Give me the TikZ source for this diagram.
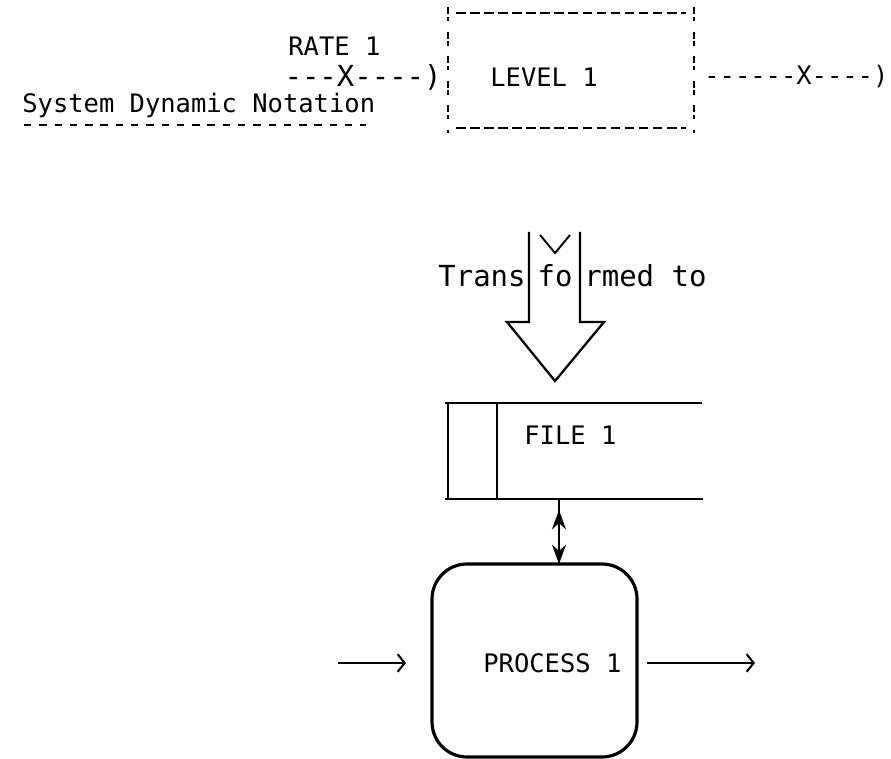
\documentclass[tikz,border=0pt]{standalone}
\usepackage{fontspec}
\setmonofont{DejaVu Sans Mono}
\usetikzlibrary{arrows.meta}
\begin{document}
\begin{tikzpicture}[x=0.02cm,y=-0.02cm,
  txt/.style={font=\ttfamily\fontsize{14.5}{16}\selectfont, inner sep=0pt, anchor=west},
  bigtxt/.style={font=\ttfamily\fontsize{16.5}{18}\selectfont, inner sep=0pt, anchor=west},
  hdash/.style={line width=1.1pt, dash pattern=on 5.5pt off 2.5pt},
  sdash/.style={line width=1.1pt, dash pattern=on 4.2pt off 4.5pt},
  vdash/.style={line width=1.3pt, dash pattern=on 4pt off 1.5pt on 2.5pt off 6pt},
  solidline/.style={line width=1.3pt},
  chev/.style={-{Straight Barb[length=4pt,width=10pt,line width=1.2pt]}, line width=1.2pt},
  dtip/.style={line width=1.1pt, {Stealth[length=11pt,width=8pt]}-{Stealth[length=11pt,width=8pt]}}
]
\useasboundingbox (0,0) rectangle (891,759);

% --- System Dynamic notation (top)
\node[txt] (rate) at (288,46) {RATE 1};
\node[bigtxt, anchor=east] (rin) at (442,77) {---X----)};
\node[txt] (sdn) at (22,105) {System Dynamic Notation};
\coordinate (ulA) at (24,125);
\coordinate (ulB) at (366,125);
\draw[sdash] (ulA) -- (ulB);

\draw[hdash] (456,13) -- (686,13);
\draw[hdash] (456,128) -- (686,128);
\draw[vdash] (448,7) -- (448,133);
\draw[vdash] (694,7) -- (694,133);
\node[txt] (level) at (490,77) {LEVEL 1};
\node[txt] (rout) at (704,77) {------X----)};

% --- Transformed to
\node[bigtxt, anchor=east] (tr1) at (526,276) {Trans};
\node[bigtxt, anchor=center] (tr2) at (555,276) {fo};
\node[bigtxt] (tr3) at (584,276) {rmed to};
\draw[solidline, line join=miter]
  (529,232) -- (529,322) -- (507,322) -- (555,381) -- (604,322) -- (580,322) -- (580,232);
\draw[line width=1.1pt] (540,235) -- (555,253) -- (570,235);

% --- File
\draw[solidline] (445,403) -- (702,403);
\draw[solidline] (445,499) -- (703,499);
\draw[solidline] (448,403) -- (448,499);
\draw[solidline] (497,403) -- (497,499);
\node[txt] (file) at (524,435) {FILE 1};

% --- Process
\node[draw, line width=1.8pt, rounded corners=0.7cm, minimum width=4.1cm,
      minimum height=3.86cm, inner sep=0pt] (proc) at (534.5,660.5) {};
\node[txt] (ptext) at (483,663) {PROCESS 1};

\coordinate (fileb) at (559,499);
\coordinate (procn) at (559,564);
\draw[line width=1.1pt] (fileb) -- (procn);
\draw[dtip, shorten <=6.3pt] (fileb) -- (procn);

\coordinate (lin) at (338,663);
\coordinate (lend) at (406,663);
\coordinate (rstart) at (647,663);
\coordinate (rend) at (755,663);
\draw[chev] (lin) -- (lend);
\draw[chev] (rstart) -- (rend);
\end{tikzpicture}
\end{document}
